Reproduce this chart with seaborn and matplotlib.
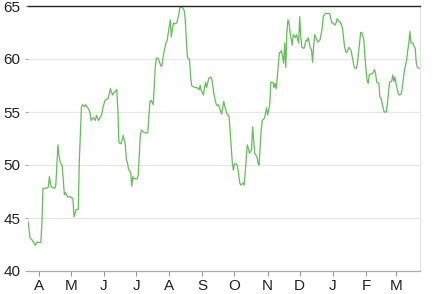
import numpy as np
import pandas as pd
import matplotlib
matplotlib.use("Agg")
import matplotlib.pyplot as plt
import matplotlib.dates as mdates
import matplotlib.ticker as mticker
import seaborn as sns

start_date = "2014-03-22"
day_offsets = [
    0, 2, 4, 7, 8, 11, 12, 13, 14, 17, 19, 20, 21, 22, 25, 26, 28, 29, 30, 32,
    33, 34, 35, 37, 40, 42, 43, 45, 47, 48, 49, 50, 51, 53, 54, 57, 58, 59, 61, 63,
    64, 66, 69, 70, 72, 75, 77, 79, 81, 83, 84, 85, 87, 89, 91, 92, 93, 94, 96, 97,
    98, 99, 102, 103, 105, 106, 108, 111, 112, 114, 115, 117, 119, 120, 122, 124, 125, 127, 129, 130,
    132, 133, 134, 135, 136, 137, 139, 141, 142, 144, 146, 147, 148, 149, 150, 151, 152, 153, 154, 157,
    158, 160, 161, 162, 164, 165, 166, 167, 169, 171, 172, 174, 175, 176, 177, 178, 181, 183, 184, 186,
    188, 190, 191, 192, 193, 195, 196, 198, 199, 201, 202, 203, 205, 206, 207, 209, 210, 211, 212, 214,
    215, 216, 218, 219, 221, 223, 224, 226, 227, 229, 230, 231, 232, 233, 235, 236, 237, 239, 240, 241,
    242, 243, 244, 245, 247, 248, 250, 251, 253, 254, 255, 256, 258, 260, 261, 262, 264, 265, 266, 267,
    268, 270, 271, 273, 275, 276, 278, 281, 282, 284, 285, 287, 288, 289, 291, 292, 294, 296, 297, 298,
    300, 302, 304, 305, 307, 308, 310, 311, 312, 314, 315, 316, 317, 318, 319, 321, 322, 324, 325, 326,
    328, 329, 330, 332, 333, 335, 336, 337, 338, 340, 341, 342, 343, 344, 346, 347, 349, 350, 352, 354,
    355, 356, 357, 358, 360, 361, 362, 363, 364, 366,
]
prices = [
    44.7, 43.1, 42.9, 42.4, 42.7, 42.7, 42.7, 44.5, 47.8, 47.8, 47.9, 48.9, 48.2, 47.9, 47.8, 48.1, 51.9, 50.9, 50.3, 49.9,
    48.6, 47.2, 47.4, 47.0, 47.0, 46.8, 45.1, 45.8, 45.8, 50.5, 53.0, 55.5, 55.7, 55.5, 55.7, 55.2, 54.9, 54.2, 54.5, 54.2,
    54.7, 54.2, 54.8, 55.4, 56.1, 56.3, 57.2, 56.6, 56.9, 57.1, 55.2, 52.1, 52.0, 52.8, 51.9, 50.5, 50.2, 49.6, 49.3, 48.0,
    48.9, 48.7, 48.7, 49.0, 52.8, 53.3, 53.1, 53.0, 53.1, 56.0, 56.1, 55.7, 59.2, 60.1, 60.0, 59.4, 59.3, 60.6, 61.5, 61.7,
    63.0, 63.7, 62.1, 62.8, 63.4, 63.3, 63.4, 64.2, 64.9, 64.9, 64.6, 63.7, 61.8, 60.2, 60.0, 60.0, 58.3, 57.5, 57.4, 57.3,
    57.3, 57.1, 57.5, 57.0, 56.6, 57.3, 57.8, 57.3, 58.2, 58.3, 58.0, 56.6, 56.1, 55.7, 55.6, 55.7, 54.8, 56.0, 55.5, 54.8,
    54.6, 51.7, 50.2, 49.5, 50.1, 50.1, 49.8, 48.3, 48.1, 48.3, 48.1, 49.2, 51.9, 51.6, 51.1, 51.4, 53.6, 52.4, 51.1, 50.8,
    50.2, 50.0, 53.3, 54.2, 54.4, 55.4, 54.7, 55.7, 57.8, 57.8, 57.3, 57.7, 57.2, 58.2, 60.6, 60.6, 60.8, 59.6, 61.5, 59.2,
    62.5, 63.7, 63.5, 62.5, 61.3, 62.3, 62.0, 62.3, 61.5, 64.0, 62.1, 61.1, 61.0, 61.8, 61.7, 62.0, 61.0, 60.9, 59.7, 61.1,
    62.3, 61.8, 61.6, 61.8, 62.9, 64.0, 64.3, 64.3, 64.3, 63.4, 63.4, 63.2, 63.4, 63.8, 63.5, 63.5, 62.9, 61.1, 60.7, 60.6,
    61.1, 60.8, 59.7, 59.2, 59.1, 59.6, 61.5, 62.5, 62.5, 61.8, 60.2, 59.0, 58.0, 57.7, 58.5, 58.6, 58.6, 59.0, 58.6, 57.8,
    57.7, 56.4, 56.3, 55.4, 55.0, 55.0, 55.8, 56.8, 57.8, 57.9, 58.5, 57.9, 58.3, 57.7, 56.8, 56.6, 56.7, 57.4, 59.0, 59.9,
    60.8, 61.5, 62.6, 61.5, 61.5, 61.2, 61.0, 59.6, 59.2, 59.1,
]
y_ticks = [40, 45, 50, 55, 60, 65]

dates = pd.Timestamp(start_date) + pd.to_timedelta(day_offsets, unit="D")
df = pd.DataFrame({"date": dates, "price": prices})

sns.set_style("white")
plt.rcParams["font.family"] = ["Liberation Sans", "DejaVu Sans"]

fig = plt.figure(figsize=(4.33, 2.94), dpi=100)
ax = fig.add_axes([28 / 433, 1 - 271 / 294, 391.5 / 433, 265 / 294])

sns.lineplot(data=df, x="date", y="price", estimator=None, color="#66bb5a",
             linewidth=0.9, ax=ax)

ax.set_xlim(dates[0], dates[-1])
ax.set_ylim(40, 65)
ax.set_yticks(y_ticks)
ax.set_xlabel("")
ax.set_ylabel("")

ax.yaxis.grid(True, color="#e6e6e6", linewidth=0.8)
ax.xaxis.grid(False)
ax.set_axisbelow(True)

ax.xaxis.set_major_locator(mdates.MonthLocator())
ax.xaxis.set_major_formatter(
    mticker.FuncFormatter(lambda v, p: mdates.num2date(v).strftime("%b")[0]))

ax.spines["left"].set_visible(False)
ax.spines["top"].set_color("#222222")
ax.spines["top"].set_linewidth(1.0)
ax.spines["bottom"].set_color("#aaaaaa")
ax.spines["bottom"].set_linewidth(0.9)
ax.spines["right"].set_color("#e3e3e3")
ax.spines["right"].set_linewidth(0.8)

ax.tick_params(axis="x", bottom=True, length=3.5, width=0.8, color="#999999",
               pad=2.5, labelsize=11, labelcolor="#222222")
ax.tick_params(axis="y", left=True, length=2.5, width=0.8, color="#aaaaaa",
               pad=3, labelsize=11, labelcolor="#222222")

fig.savefig("out.png", dpi=100)
